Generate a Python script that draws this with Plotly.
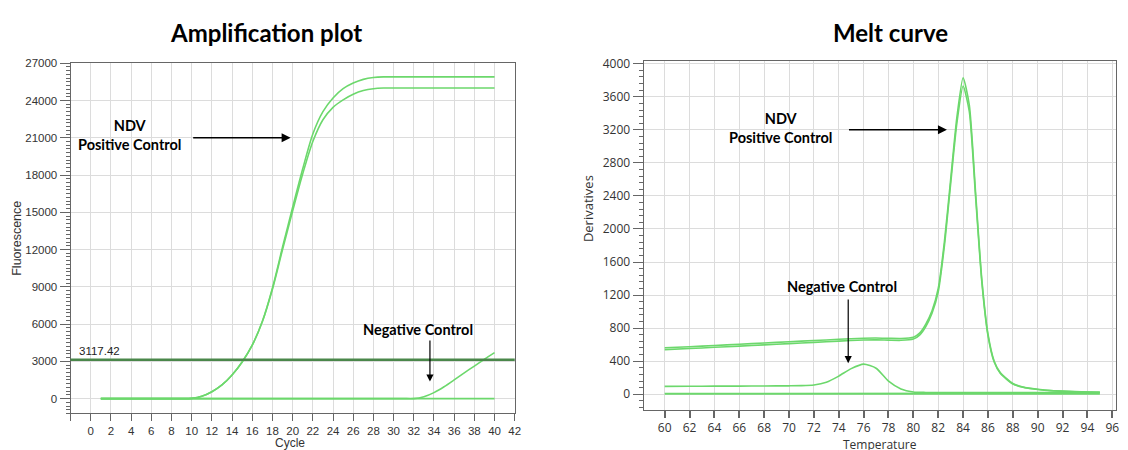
import plotly.graph_objects as go

# ---------------- Amplification plot data ----------------
cycles = list(range(1, 41))
pos_amp_upper = [0, 0, 0, 0, 0, 0, 0, 0, 0, 20, 180, 550, 1100, 1900, 2950, 4300, 6200, 8900, 12200, 15400,
                 18500, 21300, 23100, 24200, 24950, 25400, 25700, 25850, 25900, 25900,
                 25900, 25900, 25900, 25900, 25900, 25900, 25900, 25900, 25900, 25900]
pos_amp_lower = [0, 0, 0, 0, 0, 0, 0, 0, 0, 20, 180, 550, 1100, 1900, 2950, 4300, 6200, 8800, 12000, 15100,
                 18100, 20700, 22450, 23450, 24050, 24500, 24800, 24950, 25000, 25000,
                 25000, 25000, 25000, 25000, 25000, 25000, 25000, 25000, 25000, 25000]
neg_amp_flat = [0] * 40
neg_amp_rise = [0] * 31 + [0, 150, 480, 950, 1500, 2070, 2620, 3170, 3700]
threshold = 3117.42

amp_x_ticks = list(range(-2, 43, 2))
amp_x_ticktext = [""] + [str(v) for v in range(0, 43, 2)]
amp_y_ticks = list(range(0, 27001, 3000))

# ---------------- Melt curve data ----------------
temp_pos = [60, 62, 64, 66, 68, 70, 72, 74, 76, 77, 78, 79, 80, 80.5, 81, 81.5, 82, 82.5, 83, 83.5,
            84, 84.5, 85, 85.5, 86, 86.5, 87, 88, 89, 90, 91, 92, 93, 94, 95]
melt_pos_upper = [562, 575, 590, 605, 620, 635, 650, 665, 678, 680, 677, 675, 690, 740, 850, 1010, 1280, 1850,
                  2600, 3350, 3830, 3500, 2450, 1400, 730, 400, 260, 130, 80, 60, 45, 38, 32, 28, 25]
melt_pos_lower = [540, 553, 568, 583, 598, 613, 628, 643, 656, 658, 655, 653, 668, 715, 820, 980, 1240, 1800,
                  2550, 3280, 3730, 3420, 2400, 1370, 710, 390, 250, 125, 78, 58, 44, 37, 31, 27, 24]
temp_neg = [60, 62, 64, 66, 68, 70, 71, 72, 73, 74, 75, 76, 77, 78, 79, 80, 81, 82, 84, 86, 88, 90, 92, 94, 95]
melt_neg_bump = [95, 97, 98, 99, 100, 102, 104, 112, 145, 220, 310, 365, 315, 160, 65, 28, 22, 20, 20, 20,
                 20, 20, 20, 20, 20]
temp_flat = [60, 95]
melt_neg_flat = [6, 8]

melt_x_ticks = list(range(60, 97, 2))
melt_y_ticks = list(range(0, 4001, 400))

GREEN = "#6cd86c"
fig = go.Figure()

# amplification traces
for ys in (pos_amp_upper, pos_amp_lower, neg_amp_flat, neg_amp_rise):
    fig.add_trace(go.Scatter(x=cycles, y=ys, mode="lines",
                             line=dict(color=GREEN, width=1.6, shape="spline", smoothing=0.8),
                             xaxis="x", yaxis="y", showlegend=False, hoverinfo="skip"))

# melt traces
for xs, ys in ((temp_pos, melt_pos_upper), (temp_pos, melt_pos_lower), (temp_neg, melt_neg_bump)):
    fig.add_trace(go.Scatter(x=xs, y=ys, mode="lines",
                             line=dict(color=GREEN, width=1.6, shape="spline", smoothing=0.6),
                             xaxis="x2", yaxis="y2", showlegend=False))
fig.add_trace(go.Scatter(x=temp_flat, y=melt_neg_flat, mode="lines", line=dict(color=GREEN, width=2.2),
                         xaxis="x2", yaxis="y2", showlegend=False))

# threshold line
fig.add_shape(type="line", xref="x domain", yref="y", x0=0, x1=1, y0=threshold, y1=threshold,
              line=dict(color="#4a874a", width=2.5))

W, H = 1128, 450
grid = "#dcdcdc"
axis_line = "#666666"
left_font = dict(family="Liberation Sans, Arial", size=11.5, color="#333")
right_font = dict(family="Open Sans", size=12, color="#333")

fig.update_layout(
    width=W, height=H, margin=dict(l=0, r=0, t=0, b=0),
    paper_bgcolor="white", plot_bgcolor="white", showlegend=False,
    xaxis=dict(domain=[70.9 / W, 517.5 / W], range=[-2, 42], tickmode="array", tickvals=amp_x_ticks,
               ticktext=amp_x_ticktext, ticks="outside", ticklen=7, tickcolor=axis_line,
               showgrid=True, gridcolor=grid, showline=True, linecolor=axis_line, mirror=True,
               zeroline=False, tickfont=left_font, anchor="y"),
    yaxis=dict(domain=[1 - 413 / H, 1 - 58 / H], range=[-1200, 27000], tickmode="array", tickvals=amp_y_ticks,
               tickformat="d", ticks="outside", ticklen=10, tickcolor=axis_line,
               minor=dict(dtick=300, ticks="outside", ticklen=4, tickcolor=axis_line, showgrid=False),
               showgrid=True, gridcolor=grid, showline=True, linecolor=axis_line, mirror=True,
               zeroline=False, tickfont=left_font, anchor="x"),
    xaxis2=dict(domain=[647 / W, 1122 / W], range=[58.3, 96.3], tickmode="array", tickvals=melt_x_ticks,
                ticks="outside", ticklen=7, tickcolor=axis_line, tickwidth=1.5,
                showgrid=True, gridcolor=grid, showline=True, linecolor=axis_line, mirror=True,
                zeroline=False, tickfont=right_font, anchor="y2"),
    yaxis2=dict(domain=[1 - 409 / H, 1 - 56 / H], range=[-185, 4030], tickmode="array", tickvals=melt_y_ticks,
                tickformat="d", ticks="outside", ticklen=10, tickcolor=axis_line,
                minor=dict(dtick=80, ticks="outside", ticklen=4, tickcolor=axis_line, showgrid=False),
                showgrid=True, gridcolor=grid, showline=True, linecolor=axis_line, mirror=True,
                zeroline=False, tickfont=right_font, anchor="x2"),
)

bold_font = dict(family="Lato", size=14.5, color="black")
title_font = dict(family="Lato", size=24, color="black")
C = dict(xanchor="center", yanchor="middle", showarrow=False)
ann = []
# titles
ann.append(dict(text="<b>Amplification plot</b>", xref="paper", yref="paper", x=267 / W, y=1 - 27 / H,
                font=title_font, **C))
ann.append(dict(text="<b>Melt curve</b>", xref="paper", yref="paper", x=895 / W, y=1 - 27 / H,
                font=title_font, **C))
# axis titles
ann.append(dict(text="Fluorescence", xref="paper", yref="paper", x=17 / W, y=1 - 235 / H, textangle=-90,
                font=dict(family="Liberation Sans, Arial", size=12.5, color="#333"), **C))
ann.append(dict(text="Cycle", xref="paper", yref="paper", x=292 / W, y=1 - 443 / H,
                font=dict(family="Liberation Sans, Arial", size=12, color="#333"), **C))
ann.append(dict(text="Derivatives", xref="paper", yref="paper", x=591 / W, y=1 - 205 / H, textangle=-90,
                font=dict(family="Open Sans", size=13, color="#333"), **C))
ann.append(dict(text="Temperature", xref="paper", yref="paper", x=885 / W, y=1 - 444 / H,
                font=dict(family="Open Sans", size=12, color="#333"), **C))
# left annotations
ann.append(dict(text="<b>NDV<br>Positive Control</b>", x=3.8, y=21200, xref="x", yref="y",
                font=bold_font, align="center", **C))
ann.append(dict(text="", x=19.8, y=21000, ax=10, ay=21000, xref="x", yref="y", axref="x", ayref="y",
                showarrow=True, arrowhead=2, arrowsize=1.2, arrowwidth=1.5, arrowcolor="black"))
ann.append(dict(text="<b>Negative Control</b>", x=32.4, y=5580, xref="x", yref="y",
                font=bold_font, **C))
ann.append(dict(text="", x=33.6, y=1370, ax=33.6, ay=4790, xref="x", yref="y", axref="x", ayref="y",
                showarrow=True, arrowhead=2, arrowsize=1.2, arrowwidth=1.2, arrowcolor="black"))
ann.append(dict(text=f"{threshold:.2f}", x=0.87, y=3830, xref="x", yref="y",
                font=dict(family="Liberation Sans, Arial", size=11.5, color="#222"), **C))
# right annotations
ann.append(dict(text="<b>NDV<br>Positive Control</b>", x=69.3, y=3218, xref="x2", yref="y2",
                font=bold_font, align="center", **C))
ann.append(dict(text="", x=82.7, y=3200, ax=74.7, ay=3200, xref="x2", yref="y2", axref="x2", ayref="y2",
                showarrow=True, arrowhead=2, arrowsize=1.2, arrowwidth=1.5, arrowcolor="black"))
ann.append(dict(text="<b>Negative Control</b>", x=74.3, y=1307, xref="x2", yref="y2",
                font=bold_font, **C))
ann.append(dict(text="", x=74.76, y=376, ax=74.76, ay=1164, xref="x2", yref="y2", axref="x2", ayref="y2",
                showarrow=True, arrowhead=2, arrowsize=1.2, arrowwidth=1.2, arrowcolor="black"))
fig.update_layout(annotations=ann)

fig.write_html("out.html", config={"displayModeBar": False},
               post_script="document.body.style.margin='0';document.body.style.overflow='hidden';")
